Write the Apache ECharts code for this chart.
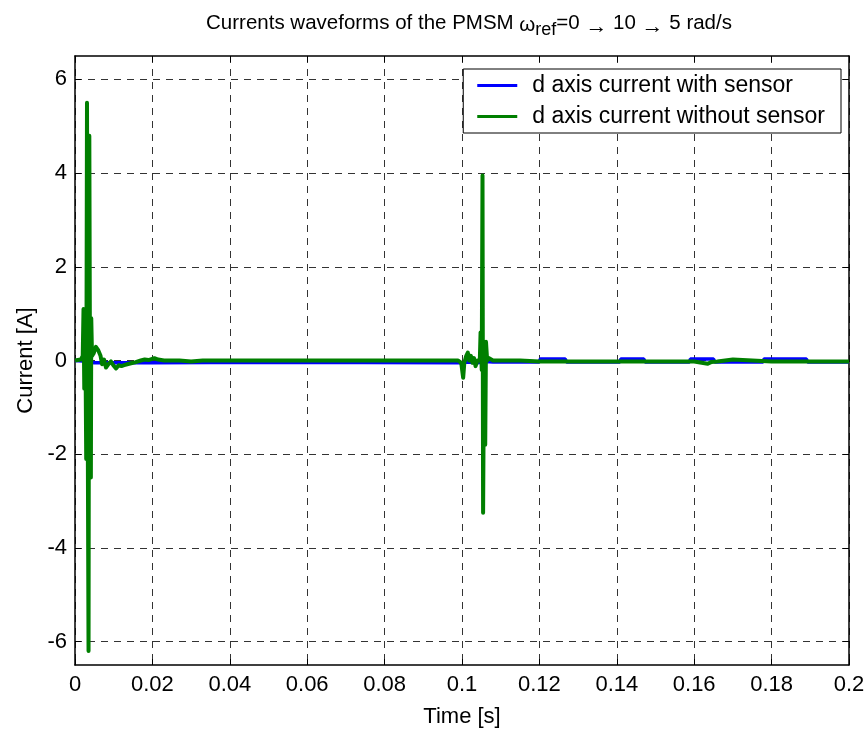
<!DOCTYPE html>
<html><head><meta charset="utf-8">
<script src="https://cdn.jsdelivr.net/npm/echarts@6/dist/echarts.min.js"></script>
<style>html,body{margin:0;padding:0;background:#fff}#c{width:868px;height:733px}</style>
</head><body><div id="c"></div>
<script>
// Time (s) and current (A) samples
const tBlue = [0, 0.002, 0.003, 0.005, 0.02, 0.05, 0.0995, 0.1003, 0.101, 0.104, 0.106, 0.108, 0.12, 0.1202, 0.1267, 0.127, 0.1408, 0.141, 0.147, 0.1473, 0.1588, 0.159, 0.165, 0.1653, 0.1778, 0.178, 0.189, 0.1893, 0.2];
const iBlue = [0, -0.01, -0.04, -0.05, -0.05, -0.04, -0.05, -0.08, -0.03, -0.05, -0.02, -0.03, -0.03, 0.03, 0.03, -0.03, -0.03, 0.03, 0.03, -0.03, -0.03, 0.03, 0.03, -0.03, -0.03, 0.03, 0.03, -0.03, -0.03];

const tGreen = [0, 0.0015, 0.002, 0.0022, 0.0024, 0.0027, 0.0029, 0.0031, 0.0033, 0.0035, 0.0036, 0.0037, 0.0039, 0.0041, 0.0042, 0.0044, 0.0048, 0.0054, 0.006, 0.0066, 0.007, 0.0075, 0.008, 0.0086, 0.0093, 0.0099, 0.0106, 0.0113, 0.012, 0.0127, 0.0135, 0.0145, 0.0155, 0.017, 0.018, 0.019, 0.0205, 0.0215, 0.023, 0.027, 0.03, 0.033, 0.04, 0.05, 0.06, 0.07, 0.08, 0.09, 0.099, 0.0998, 0.1003, 0.1006, 0.1011, 0.1015, 0.1019, 0.1023, 0.1027, 0.1031, 0.1035, 0.104, 0.1046, 0.1048, 0.1051, 0.1053, 0.10545, 0.1057, 0.106, 0.1062, 0.1065, 0.107, 0.108, 0.11, 0.115, 0.12, 0.13, 0.14, 0.15, 0.16, 0.1635, 0.1645, 0.166, 0.17, 0.18, 0.19, 0.2];
const iGreen = [0, 0.02, 0.1, 1.1, -0.6, 0.3, -2.1, 5.5, -1.5, -6.2, 0.5, 4.8, -1.0, -2.5, 0.9, 0.1, 0.15, 0.29, 0.22, 0.1, -0.08, 0.02, -0.15, -0.08, -0.02, -0.1, -0.17, -0.1, -0.12, -0.1, -0.08, -0.06, -0.04, 0.0, 0.02, 0.01, 0.05, 0.02, 0.0, 0.0, -0.02, 0.0, 0.0, 0.0, 0.0, 0.0, 0.0, 0.0, 0.0, -0.05, -0.37, -0.05, 0.1, 0.17, 0.0, 0.1, -0.05, 0.05, -0.12, 0.0, 0.0, 0.6, -0.2, 3.95, -3.25, 0.2, -1.8, 0.4, 0.0, 0.05, 0.0, 0.0, 0.0, -0.02, -0.02, -0.02, -0.02, -0.02, -0.07, -0.03, -0.02, 0.02, -0.02, -0.02, -0.02];

const xTicks = [0, 0.02, 0.04, 0.06, 0.08, 0.1, 0.12, 0.14, 0.16, 0.18, 0.2];
const yTicks = [-6, -4, -2, 0, 2, 4, 6];
const seriesNames = ['d axis current with sensor', 'd axis current without sensor'];

const font = 'Liberation Sans, Arial, sans-serif';
const dash = { color: '#333', type: [7, 6], width: 1 };
const chart = echarts.init(document.getElementById('c'), null, { renderer: 'canvas' });
chart.setOption({
  animation: false,
  backgroundColor: '#fff',
  title: {
    text: '{a|Currents waveforms of the PMSM }{w|ω}{s|ref}{a|=0 }{r|→}{a| 10 }{r|→}{a| 5 rad/s}',
    left: 464, top: 2, textAlign: 'center',
    textStyle: {
      fontWeight: 'normal',
      rich: {
        a: { fontFamily: font, fontSize: 20.5, fontWeight: 'normal', color: '#000' },
        w: { fontFamily: font, fontSize: 20.5, fontWeight: 'normal', color: '#000', padding: [4, 0, 0, 0] },
        s: { fontFamily: font, fontSize: 18, fontWeight: 'normal', color: '#000', padding: [14, 0, 0, 0] },
        r: { fontFamily: font, fontSize: 22, fontWeight: 'normal', color: '#000', padding: [7, 0, 0, 0] }
      }
    }
  },
  legend: {
    orient: 'vertical', right: 27, top: 69,
    backgroundColor: '#fff', borderColor: '#000', borderWidth: 1, borderRadius: 0,
    padding: [5, 16, 5, 14], itemGap: 8, itemWidth: 40, itemHeight: 3,
    icon: 'rect',
    textStyle: { fontFamily: font, fontSize: 23, color: '#000', padding: [0, 0, 0, 10] },
    data: seriesNames
  },
  grid: { left: 75, right: 19, top: 56, bottom: 67, containLabel: false },
  xAxis: [{
    type: 'value', min: 0, max: 0.2, interval: 0.02, position: 'bottom',
    name: 'Time [s]', nameLocation: 'middle', nameGap: 41,
    nameTextStyle: { fontFamily: font, fontSize: 22, color: '#000' },
    axisLine: { show: true, onZero: false, lineStyle: { color: '#000', width: 1.5 } },
    axisTick: { show: true, inside: true, length: 6, lineStyle: { color: '#000' } },
    axisLabel: { fontFamily: font, fontSize: 22, color: '#000', margin: 9,
      customValues: xTicks, formatter: v => String(+v.toFixed(2)) },
    splitLine: { show: true, lineStyle: dash }
  }, {
    type: 'value', min: 0, max: 0.2, interval: 0.02, position: 'top',
    axisLine: { show: true, onZero: false, lineStyle: { color: '#000', width: 1.5 } },
    axisTick: { show: true, inside: true, length: 6, lineStyle: { color: '#000' } },
    axisLabel: { show: false }, splitLine: { show: false }
  }],
  yAxis: [{
    type: 'value', min: -6.5, max: 6.5, position: 'left',
    name: 'Current [A]', nameLocation: 'middle', nameGap: 36,
    nameTextStyle: { fontFamily: font, fontSize: 22, color: '#000' },
    axisLine: { show: true, onZero: false, lineStyle: { color: '#000', width: 1.5 } },
    axisTick: { show: true, inside: true, length: 6, customValues: yTicks, lineStyle: { color: '#000' } },
    axisLabel: { fontFamily: font, fontSize: 22, color: '#000', margin: 8, customValues: yTicks },
    splitLine: { show: true, lineStyle: dash }
  }, {
    type: 'value', min: -6.5, max: 6.5, position: 'right',
    axisLine: { show: true, onZero: false, lineStyle: { color: '#000', width: 1.5 } },
    axisTick: { show: true, inside: true, length: 6, customValues: yTicks, lineStyle: { color: '#000' } },
    axisLabel: { show: false }, splitLine: { show: false }
  }],
  series: [{
    name: seriesNames[0], type: 'line', showSymbol: false, symbol: 'none',
    color: '#0000ff', lineStyle: { color: '#0000ff', width: 3.5 },
    data: tBlue.map((t, i) => [t, iBlue[i]])
  }, {
    name: seriesNames[1], type: 'line', showSymbol: false, symbol: 'none',
    color: '#007f00', lineStyle: { color: '#007f00', width: 4, join: 'round' },
    data: tGreen.map((t, i) => [t, iGreen[i]])
  }]
});
</script></body></html>
